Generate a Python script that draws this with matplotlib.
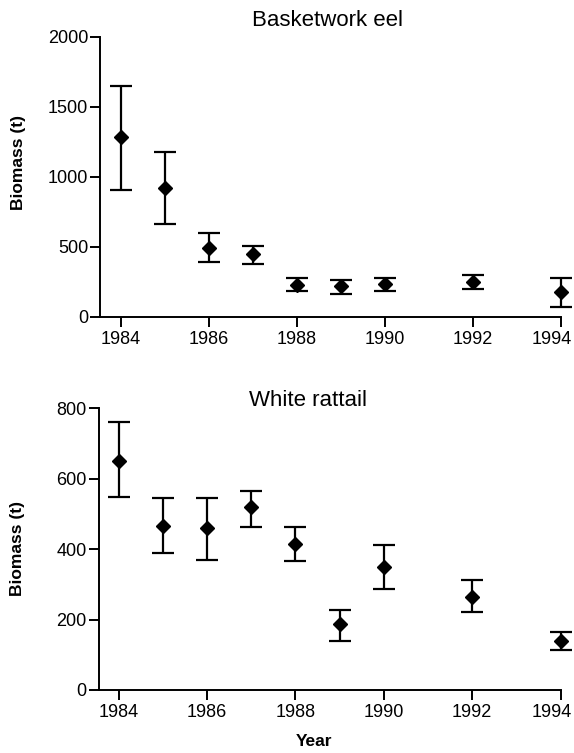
import matplotlib
matplotlib.use("Agg")
import matplotlib.pyplot as plt
import matplotlib.transforms as mtransforms
import numpy as np

plt.rcParams['font.family'] = ['Liberation Sans', 'DejaVu Sans']

years = [1984, 1985, 1986, 1987, 1988, 1989, 1990, 1992, 1994]

# Basketwork eel biomass estimates (t) with interval bounds
eel_mean = [1285, 920, 490, 445, 230, 220, 235, 245, 180]
eel_upper = [1645, 1180, 595, 505, 275, 265, 275, 295, 275]
eel_lower = [905, 660, 390, 375, 185, 160, 185, 200, 70]

# White rattail biomass estimates (t) with interval bounds
rat_mean = [650, 467, 460, 520, 415, 187, 348, 265, 139]
rat_upper = [760, 544, 544, 565, 464, 227, 411, 312, 166]
rat_lower = [548, 390, 369, 464, 366, 139, 286, 222, 114]

xticks = [1984, 1986, 1988, 1990, 1992, 1994]

W, H = 574, 753
fig = plt.figure(figsize=(W / 100, H / 100), dpi=100)


def px_axes(left, top, right, bottom):
    return fig.add_axes([left / W, 1 - bottom / H, (right - left) / W, (bottom - top) / H])


def style(ax, ymax, ystep, xleft):
    ax.set_xlim(xleft, 1994.0)
    ax.set_ylim(0, ymax)
    ax.set_yticks(np.arange(0, ymax + 1, ystep))
    ax.set_xticks(xticks)
    for s in ('top', 'right'):
        ax.spines[s].set_visible(False)
    for s in ('left', 'bottom'):
        ax.spines[s].set_linewidth(1.4)
    ax.tick_params(axis='y', direction='out', length=7.5, width=1.4, pad=1, labelsize=13)
    ax.tick_params(axis='x', direction='out', length=7, width=1.4, pad=3, labelsize=13)
    # keep the last year label inside the figure edge
    last = ax.xaxis.get_major_ticks()[-1].label1
    shift = mtransforms.ScaledTranslation(-6 / 72, 0, fig.dpi_scale_trans)
    last.set_transform(last.get_transform() + shift)


def draw(ax, mean, lower, upper):
    m = np.array(mean)
    yerr = [m - np.array(lower), np.array(upper) - m]
    ax.errorbar(years, m, yerr=yerr, fmt='D', color='black', markersize=7,
                elinewidth=1.6, capsize=8, capthick=1.6, clip_on=False)


ax1 = px_axes(100, 36.7, 560.5, 316.7)
style(ax1, 2000, 500, 1983.534)
draw(ax1, eel_mean, eel_lower, eel_upper)

ax2 = px_axes(98.5, 408.3, 560.5, 690)
style(ax2, 800, 200, 1983.545)
draw(ax2, rat_mean, rat_lower, rat_upper)

fig.text(327 / W, 1 - 20 / H, 'Basketwork eel', ha='center', va='center', fontsize=16)
fig.text(308 / W, 1 - 400 / H, 'White rattail', ha='center', va='center', fontsize=16)
fig.text(19 / W, 1 - 163 / H, 'Biomass (t)', ha='center', va='center', rotation=90,
         fontsize=12.5, fontweight='bold')
fig.text(18 / W, 1 - 548 / H, 'Biomass (t)', ha='center', va='center', rotation=90,
         fontsize=12.5, fontweight='bold')
fig.text(314 / W, 1 - 742 / H, 'Year', ha='center', va='center', fontsize=12.5,
         fontweight='bold')

fig.savefig('out.png', dpi=100)
